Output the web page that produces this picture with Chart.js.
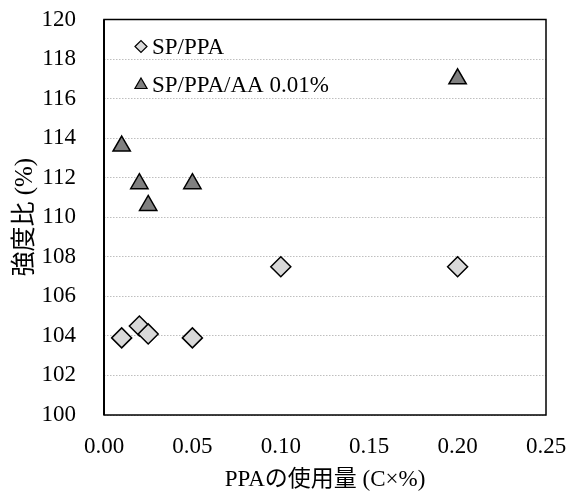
<!DOCTYPE html>
<html>
<head>
<meta charset="utf-8">
<script src="https://cdn.jsdelivr.net/npm/chart.js@4/dist/chart.umd.min.js"></script>
<style>
html,body{margin:0;padding:0;background:#fff;}
canvas{display:block;}
</style>
</head>
<body>
<canvas id="c" width="574" height="494"></canvas>
<script>
// ---- data ----
const seriesLabels = ['SP/PPA', 'SP/PPA/AA 0.01%'];
const spPpaX = [0.01, 0.02, 0.025, 0.05, 0.10, 0.20];
const spPpaY = [103.9, 104.5, 104.1, 103.9, 107.5, 107.5];
const spPpaAaX = [0.01, 0.02, 0.025, 0.05, 0.20];
const spPpaAaY = [113.6, 111.7, 110.6, 111.7, 117.0];
const xTickValues = [0, 0.05, 0.10, 0.15, 0.20, 0.25];
const xTickLabels = ['0.00', '0.05', '0.10', '0.15', '0.20', '0.25'];
const yTickValues = [100, 102, 104, 106, 108, 110, 112, 114, 116, 118, 120];
const yTickLabels = ['100', '102', '104', '106', '108', '110', '112', '114', '116', '118', '120'];
const xTitle = 'PPAの使用量 (C×%)';
const yTitle = '強度比 (%)';

const FONT = "'Liberation Serif', 'Noto Sans CJK JP', serif";
const FS = 23;
const CLEAR = 'rgba(0,0,0,0)';

function zip(xs, ys) { return xs.map((x, i) => ({x: x, y: ys[i]})); }

const frameAndLegend = {
  id: 'frameAndLegend',
  beforeDatasetsDraw(chart) {
    const {ctx, chartArea: a} = chart;
    ctx.save();
    ctx.strokeStyle = '#000';
    ctx.lineWidth = 1.5;
    ctx.strokeRect(a.left, a.top, a.right - a.left, a.bottom - a.top);
    ctx.lineWidth = 2;
    ctx.beginPath();
    ctx.moveTo(a.left, a.top);
    ctx.lineTo(a.left, a.bottom);
    ctx.stroke();
    ctx.restore();
  },
  afterDraw(chart) {
    const {ctx, chartArea: a} = chart;
    const items = [
      {ds: chart.data.datasets[0], r: 6, dy: 27},
      {ds: chart.data.datasets[1], r: 7, dy: 65.5}
    ];
    ctx.save();
    items.forEach(it => {
      const mx = a.left + 37, my = a.top + it.dy;
      ctx.fillStyle = it.ds.backgroundColor;
      ctx.strokeStyle = it.ds.borderColor;
      ctx.lineWidth = 1.2;
      if (Chart.helpers && Chart.helpers.drawPoint) {
        Chart.helpers.drawPoint(ctx, {pointStyle: it.ds.pointStyle, radius: it.r, borderWidth: 1.2, rotation: 0}, mx, my);
      }
      ctx.fillStyle = '#000';
      ctx.font = FS + 'px ' + FONT;
      ctx.textBaseline = 'alphabetic';
      ctx.textAlign = 'left';
      ctx.fillText(it.ds.label, a.left + 48, my + 7);
    });
    ctx.restore();
  }
};

new Chart(document.getElementById('c'), {
  type: 'scatter',
  data: {
    datasets: [
      {
        label: seriesLabels[0],
        data: zip(spPpaX, spPpaY),
        pointStyle: 'rectRot',
        pointRadius: 10,
        pointHoverRadius: 10,
        backgroundColor: '#d9d9d9',
        borderColor: '#000',
        borderWidth: 1.5
      },
      {
        label: seriesLabels[1],
        data: zip(spPpaAaX, spPpaAaY),
        pointStyle: 'triangle',
        pointRadius: 10,
        pointHoverRadius: 10,
        backgroundColor: '#808080',
        borderColor: '#000',
        borderWidth: 1.5
      }
    ]
  },
  options: {
    responsive: false,
    animation: false,
    events: [],
    layout: {padding: {left: 0, right: 28, top: 19.5, bottom: 0}},
    plugins: {legend: {display: false}, tooltip: {enabled: false}},
    scales: {
      x: {
        type: 'linear',
        min: 0, max: 0.25,
        afterBuildTicks: s => { s.ticks = xTickValues.map(v => ({value: v})); },
        afterFit: s => { s.height = 79; s.paddingLeft = 0; s.paddingRight = 0; },
        grid: {display: true, color: CLEAR, drawTicks: true, tickLength: 18, tickColor: CLEAR},
        border: {display: false},
        ticks: {
          padding: 0,
          color: '#000',
          font: {family: FONT, size: FS},
          maxRotation: 0,
          callback: (v, i) => xTickLabels[i]
        },
        title: {
          display: true, text: xTitle, color: '#000',
          font: {family: FONT, size: FS},
          padding: {top: 0, bottom: 0}
        }
      },
      y: {
        type: 'linear',
        min: 100, max: 120,
        afterBuildTicks: s => { s.ticks = yTickValues.map(v => ({value: v})); },
        afterFit: s => { s.width = 104; s.paddingTop = 0; s.paddingBottom = 0; },
        grid: {color: '#bfbfbf', lineWidth: 1, drawTicks: true, tickLength: 28, tickColor: CLEAR},
        border: {display: false, dash: [1.5, 1.5]},
        ticks: {
          padding: 0,
          color: '#000',
          font: {family: FONT, size: FS},
          callback: (v, i) => yTickLabels[i]
        },
        title: {
          display: true, text: yTitle, color: '#000',
          font: {family: FONT, size: 25},
          padding: {top: 10, bottom: 10}
        }
      }
    }
  },
  plugins: [frameAndLegend]
});
</script>
</body>
</html>
